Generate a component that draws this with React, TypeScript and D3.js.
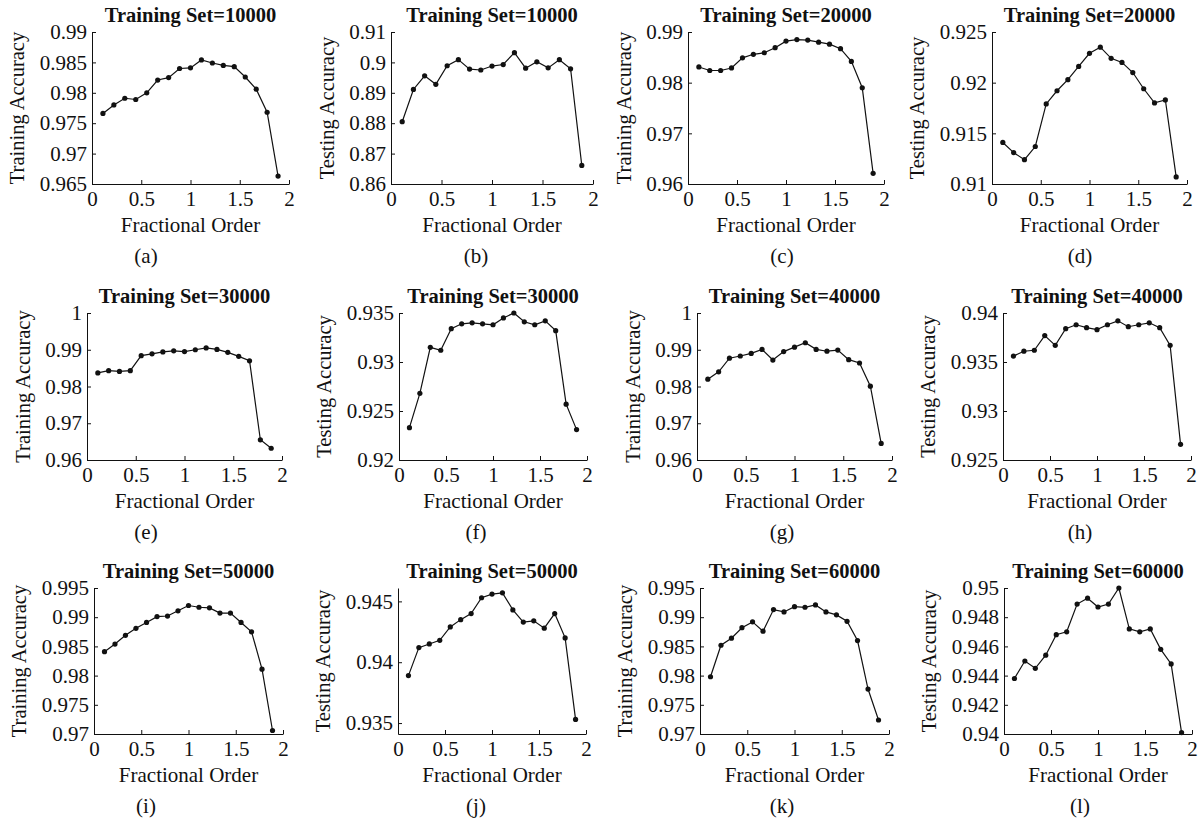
import React, { useRef, useEffect } from "react";
import * as d3 from "d3";

// fractional order values (x) shared by every panel
const fractionalOrder = [
  0.111, 0.222, 0.333, 0.444, 0.556, 0.667, 0.778, 0.889, 1.0,
  1.111, 1.222, 1.333, 1.444, 1.556, 1.667, 1.778, 1.889
];
const xTicks = [0, 0.5, 1, 1.5, 2];

// accuracies
const train10000 = [0.9766, 0.978, 0.9791, 0.9789, 0.98, 0.9821, 0.9825, 0.984, 0.9841, 0.9854, 0.9849, 0.9845, 0.9843, 0.9826, 0.9806, 0.9768, 0.9663];
const test10000 = [0.8805, 0.8911, 0.8956, 0.8928, 0.8989, 0.9009, 0.8978, 0.8975, 0.8988, 0.8993, 0.9032, 0.8981, 0.9002, 0.8982, 0.9009, 0.8979, 0.8661];
const train20000 = [0.9831, 0.9824, 0.9824, 0.9829, 0.9849, 0.9856, 0.9859, 0.9869, 0.9882, 0.9885, 0.9884, 0.988, 0.9876, 0.9867, 0.9842, 0.979, 0.9621];
const test20000 = [0.9141, 0.9131, 0.9124, 0.9137, 0.9179, 0.9192, 0.9203, 0.9216, 0.9229, 0.9235, 0.9224, 0.922, 0.921, 0.9194, 0.918, 0.9183, 0.9107];
const train30000 = [0.9837, 0.9843, 0.9841, 0.9843, 0.9884, 0.9889, 0.9894, 0.9897, 0.9895, 0.99, 0.9905, 0.9901, 0.9893, 0.9882, 0.987, 0.9655, 0.9632];
const test30000 = [0.9233, 0.9268, 0.9315, 0.9312, 0.9334, 0.9339, 0.934, 0.9339, 0.9338, 0.9345, 0.935, 0.9341, 0.9338, 0.9342, 0.9332, 0.9257, 0.9231];
const train40000 = [0.982, 0.984, 0.9877, 0.9883, 0.989, 0.9901, 0.9872, 0.9895, 0.9907, 0.9919, 0.9901, 0.9896, 0.9899, 0.9873, 0.9864, 0.9801, 0.9645];
const test40000 = [0.9356, 0.9361, 0.9362, 0.9377, 0.9367, 0.9384, 0.9388, 0.9385, 0.9383, 0.9388, 0.9392, 0.9386, 0.9388, 0.939, 0.9385, 0.9367, 0.9266];
const train50000 = [0.9841, 0.9854, 0.9869, 0.9881, 0.9891, 0.9901, 0.9902, 0.9911, 0.992, 0.9917, 0.9916, 0.9907, 0.9907, 0.9891, 0.9875, 0.9811, 0.9706];
const test50000 = [0.9389, 0.9412, 0.9415, 0.9418, 0.9429, 0.9435, 0.944, 0.9453, 0.9456, 0.9457, 0.9443, 0.9433, 0.9434, 0.9428, 0.944, 0.942, 0.9353];
const train60000 = [0.9798, 0.9852, 0.9864, 0.9882, 0.9892, 0.9876, 0.9913, 0.9909, 0.9918, 0.9917, 0.9921, 0.9909, 0.9904, 0.9893, 0.986, 0.9777, 0.9724];
const test60000 = [0.9438, 0.945, 0.9445, 0.9454, 0.9468, 0.947, 0.9489, 0.9493, 0.9487, 0.9489, 0.95, 0.9472, 0.947, 0.9472, 0.9458, 0.9448, 0.9401];

const panels = [
  { tag: "(a)", title: "Training Set=10000", ylabel: "Training Accuracy", values: train10000, yDomain: [0.965, 0.99], yTicks: [0.965, 0.97, 0.975, 0.98, 0.985, 0.99] },
  { tag: "(b)", title: "Training Set=10000", ylabel: "Testing Accuracy", values: test10000, yDomain: [0.86, 0.91], yTicks: [0.86, 0.87, 0.88, 0.89, 0.9, 0.91] },
  { tag: "(c)", title: "Training Set=20000", ylabel: "Training Accuracy", values: train20000, yDomain: [0.96, 0.99], yTicks: [0.96, 0.97, 0.98, 0.99] },
  { tag: "(d)", title: "Training Set=20000", ylabel: "Testing Accuracy", values: test20000, yDomain: [0.91, 0.925], yTicks: [0.91, 0.915, 0.92, 0.925] },
  { tag: "(e)", title: "Training Set=30000", ylabel: "Training Accuracy", values: train30000, yDomain: [0.96, 1], yTicks: [0.96, 0.97, 0.98, 0.99, 1] },
  { tag: "(f)", title: "Training Set=30000", ylabel: "Testing Accuracy", values: test30000, yDomain: [0.92, 0.935], yTicks: [0.92, 0.925, 0.93, 0.935] },
  { tag: "(g)", title: "Training Set=40000", ylabel: "Training Accuracy", values: train40000, yDomain: [0.96, 1], yTicks: [0.96, 0.97, 0.98, 0.99, 1] },
  { tag: "(h)", title: "Training Set=40000", ylabel: "Testing Accuracy", values: test40000, yDomain: [0.925, 0.94], yTicks: [0.925, 0.93, 0.935, 0.94] },
  { tag: "(i)", title: "Training Set=50000", ylabel: "Training Accuracy", values: train50000, yDomain: [0.97, 0.995], yTicks: [0.97, 0.975, 0.98, 0.985, 0.99, 0.995] },
  { tag: "(j)", title: "Training Set=50000", ylabel: "Testing Accuracy", values: test50000, yDomain: [0.9341, 0.9461], yTicks: [0.935, 0.94, 0.945] },
  { tag: "(k)", title: "Training Set=60000", ylabel: "Training Accuracy", values: train60000, yDomain: [0.97, 0.995], yTicks: [0.97, 0.975, 0.98, 0.985, 0.99, 0.995] },
  { tag: "(l)", title: "Training Set=60000", ylabel: "Testing Accuracy", values: test60000, yDomain: [0.94, 0.95], yTicks: [0.94, 0.942, 0.944, 0.946, 0.948, 0.95] }
];

// plot boxes [left, top, right, bottom]
const boxes = [
  [92, 32, 289, 184], [391, 32, 593, 184], [688, 32, 884, 184], [992, 32, 1187, 184],
  [87, 313, 282, 460], [399, 313, 587, 460], [697, 313, 892, 460], [1003, 313, 1191, 460],
  [94, 588, 283, 734], [398, 588, 586, 734], [700, 588, 889, 734], [1004, 588, 1192, 734]
];
const tagX = [146, 476, 782, 1080];

const W = 1203, H = 818;
const FONT = "'Liberation Serif', 'Times New Roman', serif";

export default function App() {
  const svgRef = useRef<SVGSVGElement>(null);

  useEffect(() => {
    const svg = d3.select(svgRef.current);
    svg.selectAll("*").remove();

    panels.forEach((p, i) => {
      const [l, t, r, b] = boxes[i];
      const x = d3.scaleLinear().domain([0, 2]).range([l, r]);
      const y = d3.scaleLinear().domain(p.yDomain).range([b, t]);
      const g = svg.append("g");

      // x axis, ticks pointing inward
      const gx = g.append("g")
        .attr("transform", `translate(0,${b})`)
        .call(d3.axisBottom(x).tickValues(xTicks).tickFormat(d => String(d))
          .tickSizeInner(-4).tickSizeOuter(0).tickPadding(7));
      // y axis
      const gy = g.append("g")
        .attr("transform", `translate(${l},0)`)
        .call(d3.axisLeft(y).tickValues(p.yTicks).tickFormat(d => String(+(+d).toFixed(4)))
          .tickSizeInner(-4).tickSizeOuter(0).tickPadding(5));

      [gx, gy].forEach(a => {
        a.attr("font-family", null).attr("font-size", null);
        a.selectAll("text").style("font-family", FONT).style("font-size", "21px").attr("fill", "#111");
        a.selectAll("line, path").attr("stroke", "#111").attr("stroke-width", 1);
      });

      let maxW = 0;
      gy.selectAll<SVGTextElement, unknown>("text").each(function () {
        maxW = Math.max(maxW, this.getComputedTextLength());
      });

      const line = d3.line<number>()
        .x((_, k) => x(fractionalOrder[k]))
        .y(d => y(d));
      g.append("path")
        .attr("d", line(p.values))
        .attr("fill", "none")
        .attr("stroke", "#111")
        .attr("stroke-width", 1.2);

      g.selectAll("circle")
        .data(p.values)
        .enter()
        .append("circle")
        .attr("cx", (_, k) => x(fractionalOrder[k]))
        .attr("cy", d => y(d))
        .attr("r", 2.6)
        .attr("fill", "#111");

      // title
      g.append("text")
        .attr("x", (l + r) / 2)
        .attr("y", t - 10.5)
        .attr("text-anchor", "middle")
        .style("font-family", FONT)
        .style("font-size", "20.5px")
        .style("font-weight", "bold")
        .attr("fill", "#111")
        .text(p.title);

      // x label
      g.append("text")
        .attr("x", (l + r) / 2)
        .attr("y", b + 48)
        .attr("text-anchor", "middle")
        .style("font-family", FONT)
        .style("font-size", "21px")
        .attr("fill", "#111")
        .text("Fractional Order");

      // y label
      const yl = l - 5 - maxW - 15.5;
      g.append("text")
        .attr("transform", `translate(${yl},${(t + b) / 2}) rotate(-90)`)
        .attr("text-anchor", "middle")
        .style("font-family", FONT)
        .style("font-size", "20.5px")
        .attr("fill", "#111")
        .text(p.ylabel);

      // panel tag
      g.append("text")
        .attr("x", tagX[i % 4])
        .attr("y", b + 79)
        .attr("text-anchor", "middle")
        .style("font-family", FONT)
        .style("font-size", "21px")
        .attr("fill", "#111")
        .text(p.tag);
    });
  }, []);

  return (
    <div style={{ position: "absolute", left: 0, top: 0, width: W, height: H, background: "#fff" }}>
      <svg ref={svgRef} width={W} height={H} style={{ display: "block" }}></svg>
    </div>
  );
}
